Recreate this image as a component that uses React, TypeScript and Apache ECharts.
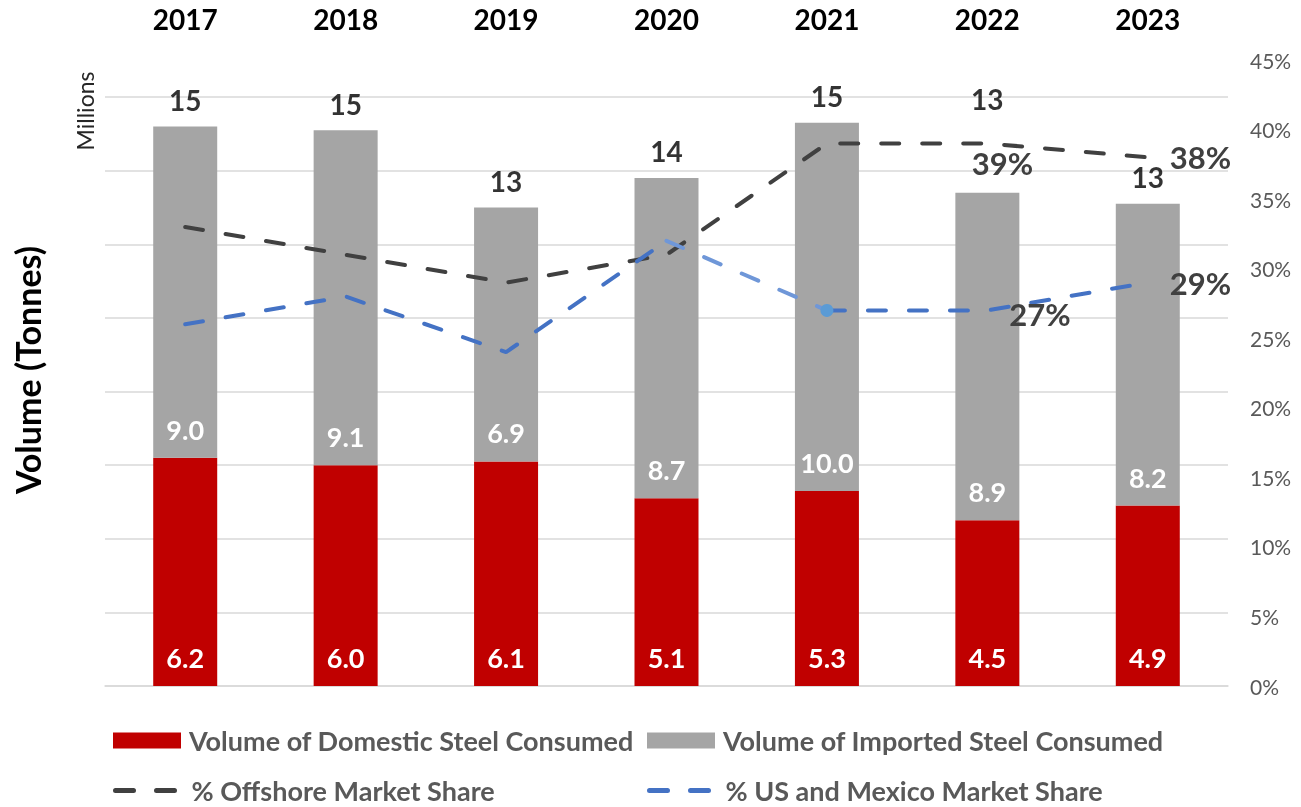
import { useEffect, useRef } from 'react';
import * as echarts from 'echarts';

const years = ['2017', '2018', '2019', '2020', '2021', '2022', '2023'];
const domestic = [6.2, 6.0, 6.1, 5.1, 5.3, 4.5, 4.9];
const imported = [9.0, 9.1, 6.9, 8.7, 10.0, 8.9, 8.2];
const offshoreShare = [33, 31, 29, 31, 39, 39, 38];
const usMexShare = [26, 28, 24, 32, 27, 27, 29];

const FONT = 'Lato';
const DARK = '#404040';
const BLUE = '#4472C4';
const BLUE_LIGHT = '#6F97D8';

export default function App() {
  const ref = useRef<HTMLDivElement>(null);
  useEffect(() => {
    const chart = echarts.init(ref.current!, null, { renderer: 'svg' });
    const totals = domestic.map((d, i) => Math.round((d + imported[i]) * 10) / 10);
    const dash = [18, 23];
    const pctLabel = { show: true, fontFamily: FONT, fontWeight: 'bold', fontSize: 31, color: DARK, formatter: (p: any) => `${p.value}%` };

    const usA = usMexShare.map((v, i) => (i <= 3 ? v : null));
    const usB = usMexShare.map((v, i) => {
      if (i < 4) return null;
      if (i === 5) return { value: v, label: { ...pctLabel, position: 'right', distance: 22, offset: [0, 4] } };
      if (i === 6) return { value: v, label: { ...pctLabel, position: 'right', distance: 22 } };
      return v;
    });
    const usLight = usMexShare.map((v, i) => {
      if (i === 3) return v;
      if (i === 4) return { value: v, symbolSize: 13, itemStyle: { color: '#5B9BD5' } };
      return null;
    });
    const offData = offshoreShare.map((v, i) => {
      if (i === 5) return { value: v, label: { ...pctLabel, position: 'bottom', distance: 4, offset: [15, 0] } };
      if (i === 6) return { value: v, label: { ...pctLabel, position: 'right', distance: 22 } };
      return v;
    });
    const totalData = totals.map((v, i) => (i === 5 ? { value: v, label: { offset: [0, -67] } } : v));

    const legendBase = {
      padding: 0,
      itemWidth: 68,
      itemHeight: 16,
      textStyle: { fontFamily: FONT, fontWeight: 'bold', fontSize: 27, color: '#595959', padding: [0, 0, 0, 3] },
      selectedMode: false,
    };
    const lineLegend = { ...legendBase, itemStyle: { opacity: 0 }, lineStyle: { width: 5 } };

    chart.setOption({
      animation: false,
      textStyle: { fontFamily: FONT },
      grid: [
        { left: 105, right: 73, top: 97, bottom: 121 },
        { left: 105, right: 73, top: 60, bottom: 121 },
      ],
      xAxis: [
        {
          type: 'category', gridIndex: 0, data: years,
          axisLine: { lineStyle: { color: '#D9D9D9', width: 1.5 } },
          axisTick: { show: false }, axisLabel: { show: false },
        },
        {
          type: 'category', gridIndex: 1, data: years, position: 'top',
          axisLine: { show: false }, axisTick: { show: false },
          axisLabel: { fontFamily: FONT, fontWeight: 'bold', fontSize: 28, color: '#000', margin: 27 },
        },
      ],
      yAxis: [
        {
          type: 'value', gridIndex: 0, min: 0, max: 16, interval: 2,
          axisLabel: { show: false }, axisLine: { show: false }, axisTick: { show: false },
          splitLine: { lineStyle: { color: '#D9D9D9', width: 1.5 } },
        },
        {
          type: 'value', gridIndex: 1, position: 'right', min: 0, max: 45, interval: 5,
          axisLine: { show: false }, axisTick: { show: false }, splitLine: { show: false },
          axisLabel: { formatter: '{value}%', fontFamily: FONT, fontSize: 21, color: '#595959', margin: 22 },
        },
      ],
      legend: [
        { ...legendBase, left: 113, top: 727, data: [{ name: 'Volume of Domestic Steel Consumed', icon: 'rect' }] },
        { ...legendBase, left: 647, top: 727, data: [{ name: 'Volume of Imported Steel Consumed', icon: 'rect' }] },
        { ...lineLegend, left: 113, top: 777, data: ['% Offshore Market Share'] },
        { ...lineLegend, left: 647, top: 777, data: ['% US and Mexico Market Share'] },
      ],
      graphic: [
        {
          type: 'text', x: 85, y: 111, rotation: Math.PI / 2,
          style: { text: 'Millions', font: `23px ${FONT}`, fill: '#262626', align: 'center', verticalAlign: 'middle' },
        },
        {
          type: 'text', x: 27, y: 370, rotation: Math.PI / 2,
          style: { text: 'Volume (Tonnes)', font: `bold 34px ${FONT}`, fill: '#000', align: 'center', verticalAlign: 'middle' },
        },
      ],
      series: [
        {
          name: 'Volume of Domestic Steel Consumed', type: 'bar', stack: 'vol', barWidth: 64,
          xAxisIndex: 0, yAxisIndex: 0, data: domestic,
          itemStyle: { color: '#C00000' },
          label: { show: true, position: 'insideBottom', distance: 15, fontFamily: FONT, fontWeight: 'bold', fontSize: 27, color: '#fff', formatter: (p: any) => p.value.toFixed(1) },
        },
        {
          name: 'Volume of Imported Steel Consumed', type: 'bar', stack: 'vol', barWidth: 64,
          xAxisIndex: 0, yAxisIndex: 0, data: imported,
          itemStyle: { color: '#A5A5A5' },
          label: { show: true, position: 'insideBottom', distance: 15, fontFamily: FONT, fontWeight: 'bold', fontSize: 27, color: '#fff', formatter: (p: any) => p.value.toFixed(1) },
        },
        {
          name: 'totals', type: 'scatter', xAxisIndex: 0, yAxisIndex: 0, data: totalData,
          symbolSize: 1, itemStyle: { color: 'transparent' }, silent: true,
          label: { show: true, position: 'top', distance: 12, fontFamily: FONT, fontWeight: 'bold', fontSize: 28, color: '#000', formatter: (p: any) => `${Math.round(p.value)}` },
        },
        {
          name: '% Offshore Market Share', type: 'line', xAxisIndex: 1, yAxisIndex: 1, data: offData,
          symbol: 'circle', symbolSize: 0, z: 5,
          lineStyle: { color: DARK, width: 4, type: dash, cap: 'round' },
          itemStyle: { color: DARK },
        },
        {
          name: '% US and Mexico Market Share', type: 'line', xAxisIndex: 1, yAxisIndex: 1, data: usA,
          symbol: 'circle', symbolSize: 0, z: 5,
          lineStyle: { color: BLUE, width: 4, type: dash, cap: 'round' },
          itemStyle: { color: BLUE },
        },
        {
          name: '% US and Mexico Market Share', type: 'line', xAxisIndex: 1, yAxisIndex: 1, data: usLight,
          symbol: 'circle', symbolSize: 0, z: 6,
          lineStyle: { color: BLUE_LIGHT, width: 4, type: dash, cap: 'round' },
          itemStyle: { color: BLUE_LIGHT },
        },
        {
          name: '% US and Mexico Market Share', type: 'line', xAxisIndex: 1, yAxisIndex: 1, data: usB,
          symbol: 'circle', symbolSize: 0, z: 5,
          lineStyle: { color: BLUE, width: 4, type: dash, cap: 'round' },
          itemStyle: { color: BLUE },
        },
      ],
    });
    return () => chart.dispose();
  }, []);
  return <div ref={ref} style={{ position: 'fixed', left: 0, top: 0, width: 1301, height: 807 }} />;
}
